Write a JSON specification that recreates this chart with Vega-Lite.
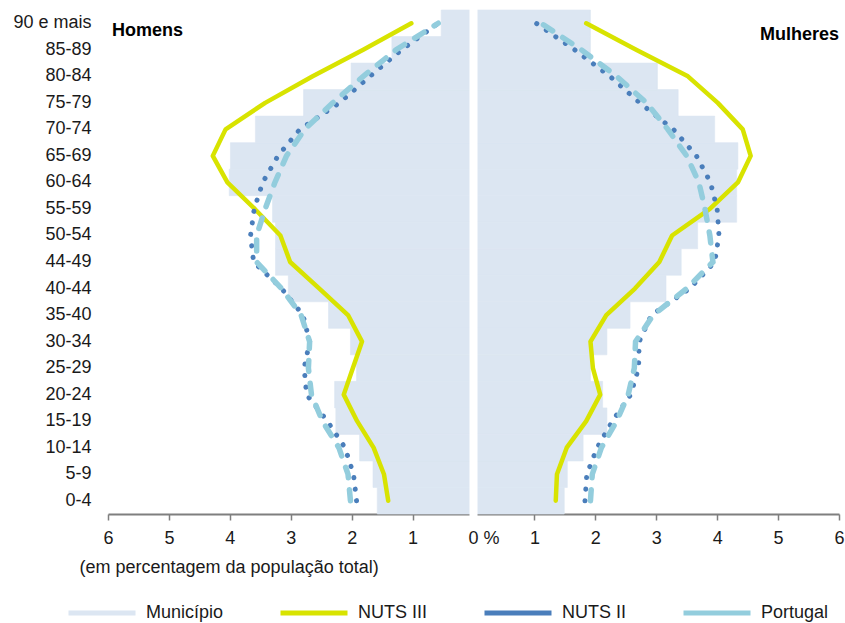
{
  "$schema": "https://vega.github.io/schema/vega-lite/v6.json",
  "width": 731,
  "height": 504,
  "padding": {"left": 12, "top": 4, "right": 5, "bottom": 5},
  "background": "white",
  "config": {"view": {"stroke": null}, "font": "Liberation Sans"},
  "data": {"values": [
    {"idade": "0-4", "ordem": 1, "sexo": "Homens", "Município": 1.58, "NUTS III": 1.40, "NUTS II": 1.92, "Portugal": 2.02},
    {"idade": "5-9", "ordem": 2, "sexo": "Homens", "Município": 1.65, "NUTS III": 1.47, "NUTS II": 1.97, "Portugal": 2.06},
    {"idade": "10-14", "ordem": 3, "sexo": "Homens", "Município": 1.87, "NUTS III": 1.64, "NUTS II": 2.11, "Portugal": 2.21},
    {"idade": "15-19", "ordem": 4, "sexo": "Homens", "Município": 2.26, "NUTS III": 1.91, "NUTS II": 2.40, "Portugal": 2.48},
    {"idade": "20-24", "ordem": 5, "sexo": "Homens", "Município": 2.28, "NUTS III": 2.13, "NUTS II": 2.74, "Portugal": 2.66},
    {"idade": "25-29", "ordem": 6, "sexo": "Homens", "Município": 1.92, "NUTS III": 1.98, "NUTS II": 2.78, "Portugal": 2.71},
    {"idade": "30-34", "ordem": 7, "sexo": "Homens", "Município": 2.02, "NUTS III": 1.83, "NUTS II": 2.69, "Portugal": 2.69},
    {"idade": "35-40", "ordem": 8, "sexo": "Homens", "Município": 2.38, "NUTS III": 2.06, "NUTS II": 2.80, "Portugal": 2.83},
    {"idade": "40-44", "ordem": 9, "sexo": "Homens", "Município": 3.04, "NUTS III": 2.53, "NUTS II": 3.15, "Portugal": 3.15},
    {"idade": "44-49", "ordem": 10, "sexo": "Homens", "Município": 3.25, "NUTS III": 3.01, "NUTS II": 3.61, "Portugal": 3.56},
    {"idade": "50-54", "ordem": 11, "sexo": "Homens", "Município": 3.25, "NUTS III": 3.17, "NUTS II": 3.66, "Portugal": 3.56},
    {"idade": "55-59", "ordem": 12, "sexo": "Homens", "Município": 3.30, "NUTS III": 3.59, "NUTS II": 3.60, "Portugal": 3.42},
    {"idade": "60-64", "ordem": 13, "sexo": "Homens", "Município": 4.01, "NUTS III": 4.04, "NUTS II": 3.46, "Portugal": 3.26},
    {"idade": "65-69", "ordem": 14, "sexo": "Homens", "Município": 3.99, "NUTS III": 4.28, "NUTS II": 3.21, "Portugal": 3.07},
    {"idade": "70-74", "ordem": 15, "sexo": "Homens", "Município": 3.58, "NUTS III": 4.07, "NUTS II": 2.85, "Portugal": 2.77},
    {"idade": "75-79", "ordem": 16, "sexo": "Homens", "Município": 2.79, "NUTS III": 3.42, "NUTS II": 2.20, "Portugal": 2.31},
    {"idade": "80-84", "ordem": 17, "sexo": "Homens", "Município": 2.01, "NUTS III": 2.64, "NUTS II": 1.70, "Portugal": 1.81},
    {"idade": "85-89", "ordem": 18, "sexo": "Homens", "Município": 1.34, "NUTS III": 1.81, "NUTS II": 1.18, "Portugal": 1.27},
    {"idade": "90 e mais", "ordem": 19, "sexo": "Homens", "Município": 0.53, "NUTS III": 1.02, "NUTS II": 0.58, "Portugal": 0.58},
    {"idade": "0-4", "ordem": 1, "sexo": "Mulheres", "Município": 1.49, "NUTS III": 1.35, "NUTS II": 1.83, "Portugal": 1.92},
    {"idade": "5-9", "ordem": 2, "sexo": "Mulheres", "Município": 1.54, "NUTS III": 1.37, "NUTS II": 1.86, "Portugal": 1.95},
    {"idade": "10-14", "ordem": 3, "sexo": "Mulheres", "Município": 1.80, "NUTS III": 1.53, "NUTS II": 2.03, "Portugal": 2.10},
    {"idade": "15-19", "ordem": 4, "sexo": "Mulheres", "Município": 2.19, "NUTS III": 1.85, "NUTS II": 2.28, "Portugal": 2.35},
    {"idade": "20-24", "ordem": 5, "sexo": "Mulheres", "Município": 2.12, "NUTS III": 2.08, "NUTS II": 2.58, "Portugal": 2.54},
    {"idade": "25-29", "ordem": 6, "sexo": "Mulheres", "Município": 1.92, "NUTS III": 1.96, "NUTS II": 2.71, "Portugal": 2.64},
    {"idade": "30-34", "ordem": 7, "sexo": "Mulheres", "Município": 2.19, "NUTS III": 1.92, "NUTS II": 2.72, "Portugal": 2.66},
    {"idade": "35-40", "ordem": 8, "sexo": "Mulheres", "Município": 2.57, "NUTS III": 2.18, "NUTS II": 2.92, "Portugal": 2.95},
    {"idade": "40-44", "ordem": 9, "sexo": "Mulheres", "Município": 3.16, "NUTS III": 2.65, "NUTS II": 3.55, "Portugal": 3.50},
    {"idade": "44-49", "ordem": 10, "sexo": "Mulheres", "Município": 3.41, "NUTS III": 3.05, "NUTS II": 3.96, "Portugal": 3.93},
    {"idade": "50-54", "ordem": 11, "sexo": "Mulheres", "Município": 3.68, "NUTS III": 3.26, "NUTS II": 4.03, "Portugal": 3.88},
    {"idade": "55-59", "ordem": 12, "sexo": "Mulheres", "Município": 4.32, "NUTS III": 3.88, "NUTS II": 4.00, "Portugal": 3.80},
    {"idade": "60-64", "ordem": 13, "sexo": "Mulheres", "Município": 4.32, "NUTS III": 4.34, "NUTS II": 3.89, "Portugal": 3.70},
    {"idade": "65-69", "ordem": 14, "sexo": "Mulheres", "Município": 4.34, "NUTS III": 4.55, "NUTS II": 3.66, "Portugal": 3.50},
    {"idade": "70-74", "ordem": 15, "sexo": "Mulheres", "Município": 3.96, "NUTS III": 4.42, "NUTS II": 3.28, "Portugal": 3.19},
    {"idade": "75-79", "ordem": 16, "sexo": "Mulheres", "Município": 3.36, "NUTS III": 4.01, "NUTS II": 2.73, "Portugal": 2.84},
    {"idade": "80-84", "ordem": 17, "sexo": "Mulheres", "Município": 3.02, "NUTS III": 3.52, "NUTS II": 2.24, "Portugal": 2.35},
    {"idade": "85-89", "ordem": 18, "sexo": "Mulheres", "Município": 1.92, "NUTS III": 2.67, "NUTS II": 1.66, "Portugal": 1.77},
    {"idade": "90 e mais", "ordem": 19, "sexo": "Mulheres", "Município": 1.92, "NUTS III": 1.85, "NUTS II": 1.03, "Portugal": 1.11}
  ]},
  "transform": [{"fold": ["Município", "NUTS III", "NUTS II", "Portugal"], "as": ["serie", "valor"]}],
  "resolve": {"scale": {"x": "independent"}},
  "layer": [
    {
      "transform": [{"filter": "datum.sexo === 'Mulheres' && datum.serie === 'Município'"}],
      "mark": {"type": "bar", "stroke": "#dce6f2", "strokeWidth": 0.6},
      "encoding": {
        "y": {"field": "idade", "type": "nominal",
          "scale": {"domain": ["90 e mais", "85-89", "80-84", "75-79", "70-74", "65-69", "60-64", "55-59", "50-54", "44-49", "40-44", "35-40", "30-34", "25-29", "20-24", "15-19", "10-14", "5-9", "0-4"], "paddingInner": 0, "paddingOuter": 0},
          "axis": {"title": null, "ticks": false, "domain": false, "labelFontSize": 18, "labelPadding": 17, "labelColor": "#1a1a1a"}},
        "x": {"field": "valor", "type": "quantitative", "scale": {"domain": [-6, 6]},
          "axis": {"orient": "bottom", "values": [-6, -5, -4, -3, -2, -1, 0, 1, 2, 3, 4, 5, 6],
            "labelExpr": "datum.value === 0 ? '0 %' : format(abs(datum.value), 'd')",
            "labelFontSize": 18, "labelColor": "#1a1a1a", "labelFlush": false, "labelOverlap": false,
            "labelOffset": {"condition": {"test": "datum.value === 0", "value": 10}, "value": 0},
            "tickColor": {"condition": {"test": "datum.value === 0", "value": "transparent"}, "value": "#7f7f7f"},
            "tickSize": 6, "tickWidth": 1.5, "domainColor": "#7f7f7f", "domainWidth": 2, "grid": false, "labelPadding": 9,
            "title": "(em percentagem da população total)", "titleFontSize": 18, "titleFontWeight": "normal",
            "titleColor": "#1a1a1a", "titleAlign": "left", "titleX": -29, "titleY": 53, "titleBaseline": "middle"}},
        "color": {"field": "serie", "type": "nominal",
          "scale": {"domain": ["Município", "NUTS III", "NUTS II", "Portugal"], "range": ["#dce6f2", "#d8e300", "#4a7ebb", "#93cddd"]},
          "legend": {"orient": "none", "legendX": -42, "legendY": 567, "direction": "horizontal", "columns": 4,
            "title": null, "symbolType": "stroke", "symbolSize": 4489, "symbolStrokeWidth": 5,
            "labelFontSize": 18, "labelOffset": 8, "columnPadding": 46, "labelColor": "#1a1a1a",
            "encode": {"symbols": {
              "stroke": {"condition": [
                {"test": "datum.value === 'Município'", "value": "#dce6f2"},
                {"test": "datum.value === 'NUTS III'", "value": "#d8e300"},
                {"test": "datum.value === 'NUTS II'", "value": "#4a7ebb"}], "value": "#93cddd"},
              "fill": {"value": "transparent"},
              "strokeWidth": {"condition": [
                {"test": "datum.value === 'Município'", "value": 10},
                {"test": "datum.value === 'Portugal'", "value": 5.5},
                {"test": "datum.value === 'NUTS II'", "value": 5}], "value": 4.5},
              "strokeDash": {"condition": [
                {"test": "datum.value === 'NUTS II'", "value": [0.1, 12.3]},
                {"test": "datum.value === 'Portugal'", "value": [11, 12.3]}], "value": [1, 0]},
              "strokeCap": {"condition": {"test": "datum.value === 'Município'", "value": "butt"}, "value": "round"},
              "opacity": {"value": 1}
            }}}}
      }
    },
    {
      "transform": [{"filter": "datum.sexo === 'Homens' && datum.serie === 'Município'"}],
      "mark": {"type": "bar", "stroke": "#dce6f2", "strokeWidth": 0.6},
      "encoding": {
        "y": {"field": "idade", "type": "nominal"},
        "x": {"field": "valor", "type": "quantitative", "scale": {"domain": [-6, 6], "reverse": true}, "axis": null},
        "color": {"field": "serie", "type": "nominal", "legend": null}
      }
    },
    {
      "transform": [{"filter": "datum.sexo === 'Homens' && datum.serie === 'NUTS III'"}],
      "mark": {"type": "line", "strokeWidth": 4.5, "strokeCap": "round", "strokeJoin": "round"},
      "encoding": {
        "y": {"field": "idade", "type": "nominal"},
        "x": {"field": "valor", "type": "quantitative", "scale": {"domain": [-6, 6], "reverse": true}, "axis": null},
        "color": {"field": "serie", "type": "nominal", "legend": null},
        "order": {"field": "ordem", "type": "quantitative"}
      }
    },
    {
      "transform": [{"filter": "datum.sexo === 'Mulheres' && datum.serie === 'NUTS III'"}],
      "mark": {"type": "line", "strokeWidth": 4.5, "strokeCap": "round", "strokeJoin": "round"},
      "encoding": {
        "y": {"field": "idade", "type": "nominal"},
        "x": {"field": "valor", "type": "quantitative", "scale": {"domain": [-6, 6]}, "axis": null},
        "color": {"field": "serie", "type": "nominal", "legend": null},
        "order": {"field": "ordem", "type": "quantitative"}
      }
    },
    {
      "transform": [{"filter": "datum.sexo === 'Homens' && datum.serie === 'NUTS II'"}],
      "mark": {"type": "line", "strokeWidth": 5, "strokeCap": "round", "strokeDash": [0.1, 11.5]},
      "encoding": {
        "y": {"field": "idade", "type": "nominal"},
        "x": {"field": "valor", "type": "quantitative", "scale": {"domain": [-6, 6], "reverse": true}, "axis": null},
        "color": {"field": "serie", "type": "nominal", "legend": null},
        "order": {"field": "ordem", "type": "quantitative"}
      }
    },
    {
      "transform": [{"filter": "datum.sexo === 'Mulheres' && datum.serie === 'NUTS II'"}],
      "mark": {"type": "line", "strokeWidth": 5, "strokeCap": "round", "strokeDash": [0.1, 11.5]},
      "encoding": {
        "y": {"field": "idade", "type": "nominal"},
        "x": {"field": "valor", "type": "quantitative", "scale": {"domain": [-6, 6]}, "axis": null},
        "color": {"field": "serie", "type": "nominal", "legend": null},
        "order": {"field": "ordem", "type": "quantitative"}
      }
    },
    {
      "transform": [{"filter": "datum.sexo === 'Homens' && datum.serie === 'Portugal'"}],
      "mark": {"type": "line", "strokeWidth": 5.5, "strokeCap": "round", "strokeDash": [11, 12]},
      "encoding": {
        "y": {"field": "idade", "type": "nominal"},
        "x": {"field": "valor", "type": "quantitative", "scale": {"domain": [-6, 6], "reverse": true}, "axis": null},
        "color": {"field": "serie", "type": "nominal", "legend": null},
        "order": {"field": "ordem", "type": "quantitative"}
      }
    },
    {
      "transform": [{"filter": "datum.sexo === 'Mulheres' && datum.serie === 'Portugal'"}],
      "mark": {"type": "line", "strokeWidth": 5.5, "strokeCap": "round", "strokeDash": [11, 12]},
      "encoding": {
        "y": {"field": "idade", "type": "nominal"},
        "x": {"field": "valor", "type": "quantitative", "scale": {"domain": [-6, 6]}, "axis": null},
        "color": {"field": "serie", "type": "nominal", "legend": null},
        "order": {"field": "ordem", "type": "quantitative"}
      }
    },
    {
      "transform": [{"filter": "datum.sexo === 'Homens' && datum.serie === 'Município' && datum.ordem === 1"}],
      "mark": {"type": "rule", "color": "white", "strokeWidth": 8, "strokeCap": "square"},
      "encoding": {
        "x": {"datum": 0, "type": "quantitative", "scale": {"domain": [-6, 6]}, "axis": null}
      }
    },
    {
      "transform": [{"filter": "datum.sexo === 'Homens' && datum.serie === 'Município' && datum.ordem === 1"}],
      "mark": {"type": "text", "text": "Homens", "fontWeight": "bold", "fontSize": 18, "align": "left", "baseline": "middle", "dx": 4, "dy": 8, "color": "#000000"},
      "encoding": {
        "x": {"datum": 6, "type": "quantitative", "scale": {"domain": [-6, 6], "reverse": true}, "axis": null},
        "y": {"datum": "90 e mais", "type": "nominal"}
      }
    },
    {
      "transform": [{"filter": "datum.sexo === 'Mulheres' && datum.serie === 'Município' && datum.ordem === 1"}],
      "mark": {"type": "text", "text": "Mulheres", "fontWeight": "bold", "fontSize": 18, "align": "right", "baseline": "middle", "dx": 0, "dy": 12, "color": "#000000"},
      "encoding": {
        "x": {"datum": 6, "type": "quantitative", "scale": {"domain": [-6, 6]}, "axis": null},
        "y": {"datum": "90 e mais", "type": "nominal"}
      }
    }
  ]
}
